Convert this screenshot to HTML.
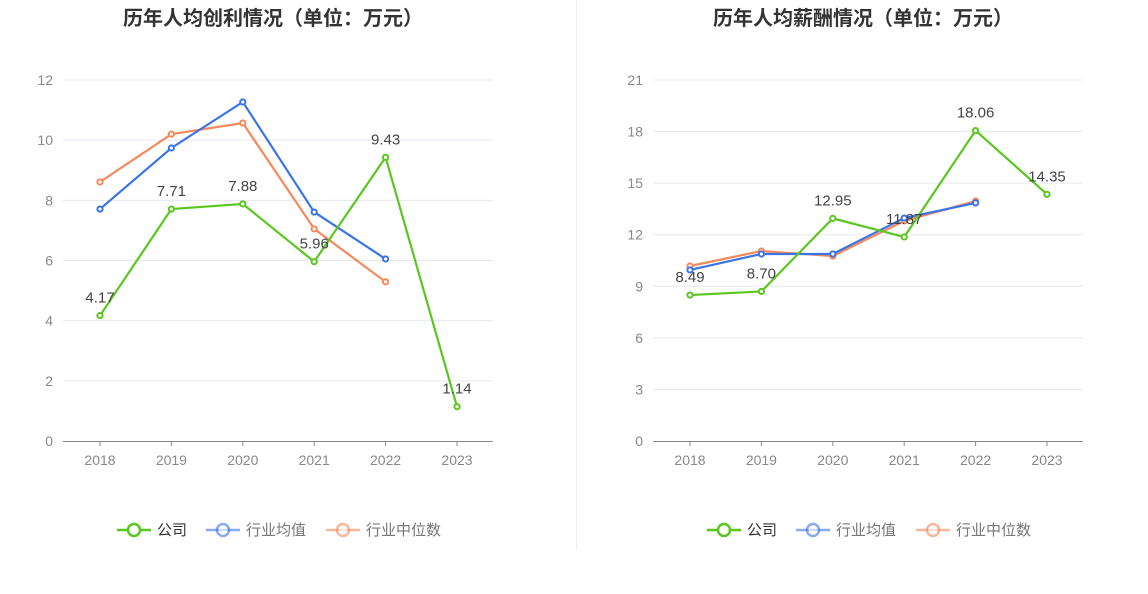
<!DOCTYPE html>
<html><head><meta charset="utf-8"><style>
body{margin:0;background:#fff;font-family:"Liberation Sans","Noto Sans CJK SC",sans-serif}
svg text{font-family:"Liberation Sans","Noto Sans CJK SC",sans-serif}
</style></head><body>
<svg id="s" width="1148" height="589">
<line x1="576.5" y1="0" x2="576.5" y2="550" stroke="#eee"/>
</svg>
<script>
const years=["2018","2019","2020","2021","2022","2023"];
const profitCompany=[4.17,7.71,7.88,5.96,9.43,1.14];
const profitAvg=[7.71,9.74,11.27,7.61,6.05];
const profitMedian=[8.61,10.2,10.57,7.05,5.29];
const profitTicks=[0,2,4,6,8,10,12];
const salaryCompany=[8.49,8.70,12.95,11.87,18.06,14.35];
const salaryAvg=[9.95,10.88,10.88,12.97,13.85];
const salaryMedian=[10.18,11.05,10.76,12.8,13.96];
const salaryTicks=[0,3,6,9,12,15,18,21];
const G="#5ac71f",B="#3a75e8",O="#f5895b";
const svg=document.getElementById('s');
const NS="http://www.w3.org/2000/svg";
function mk(t,a,p){const e=document.createElementNS(NS,t);for(const k in a)e.setAttribute(k,a[k]);(p||svg).appendChild(e);return e;}
function chart(ox,title,ticks,maxV,comp,avg,med,pre){
  const g=mk('g',{});
  
  
  const x=i=>ox+100+i*71.4, y=v=>441-v*(361/maxV);
  const t=mk('text',{x:ox+273,y:25,'text-anchor':'middle','font-size':20,'font-weight':'bold',fill:'#333'},g);t.textContent=title;
  
  
  ticks.forEach(v=>{
    if(v>0){const l=mk('line',{x1:ox+63,x2:ox+493,y1:y(v),y2:y(v),stroke:'#e6e8f0'},g);
    
    }
    const tt=mk('text',{x:ox+53,y:y(v)+5,'text-anchor':'end','font-size':14,fill:'#888'},g);tt.textContent=v;
    
    
  });
  const ax=mk('line',{x1:ox+63,x2:ox+493,y1:441.5,y2:441.5,stroke:'#888'},g);
  
  
  years.forEach((yr,i)=>{
    mk('line',{x1:x(i),x2:x(i),y1:441,y2:446,stroke:'#888'},g);
    const tt=mk('text',{x:x(i),y:465,'text-anchor':'middle','font-size':14,fill:'#888'},g);tt.textContent=yr;
    
    
  });
  [[med,O,'median'],[avg,B,'average'],[comp,G,'company']].forEach(([d,c,n])=>{
    const p=mk('polyline',{points:d.map((v,i)=>x(i)+','+y(v)).join(' '),fill:'none',stroke:c,'stroke-width':2.2},g);
    
    
    d.forEach((v,i)=>{const m=mk('circle',{cx:x(i),cy:y(v),r:2.6,fill:'#fff',stroke:c,'stroke-width':2},g);
      
      });
  });
  comp.forEach((v,i)=>{const tt=mk('text',{x:x(i),y:y(v)-13,'text-anchor':'middle','font-size':15,fill:'#444'},g);tt.textContent=v.toFixed(2);
    
    });
  [[G,'公司',ox+117],[B,'行业均值',ox+206],[O,'行业中位数',ox+326]].forEach(([c,l,lx],k)=>{
    const lg=mk('g',{},g);
    
    
    const op=k?0.6:1;
    mk('line',{x1:lx,x2:lx+34,y1:530,y2:530,stroke:c,'stroke-width':2.5,opacity:op},lg);
    mk('circle',{cx:lx+17,cy:530,r:6,fill:'#fff',stroke:c,'stroke-width':2.5,opacity:op},lg);
    const tt=mk('text',{x:lx+40,y:535,'font-size':15,fill:k?'#777':'#333'},lg);tt.textContent=l;
  });
}
chart(0,'历年人均创利情况（单位：万元）',profitTicks,12,profitCompany,profitAvg,profitMedian,'profit');
chart(590,'历年人均薪酬情况（单位：万元）',salaryTicks,21,salaryCompany,salaryAvg,salaryMedian,'salary');
</script>
</body></html>
